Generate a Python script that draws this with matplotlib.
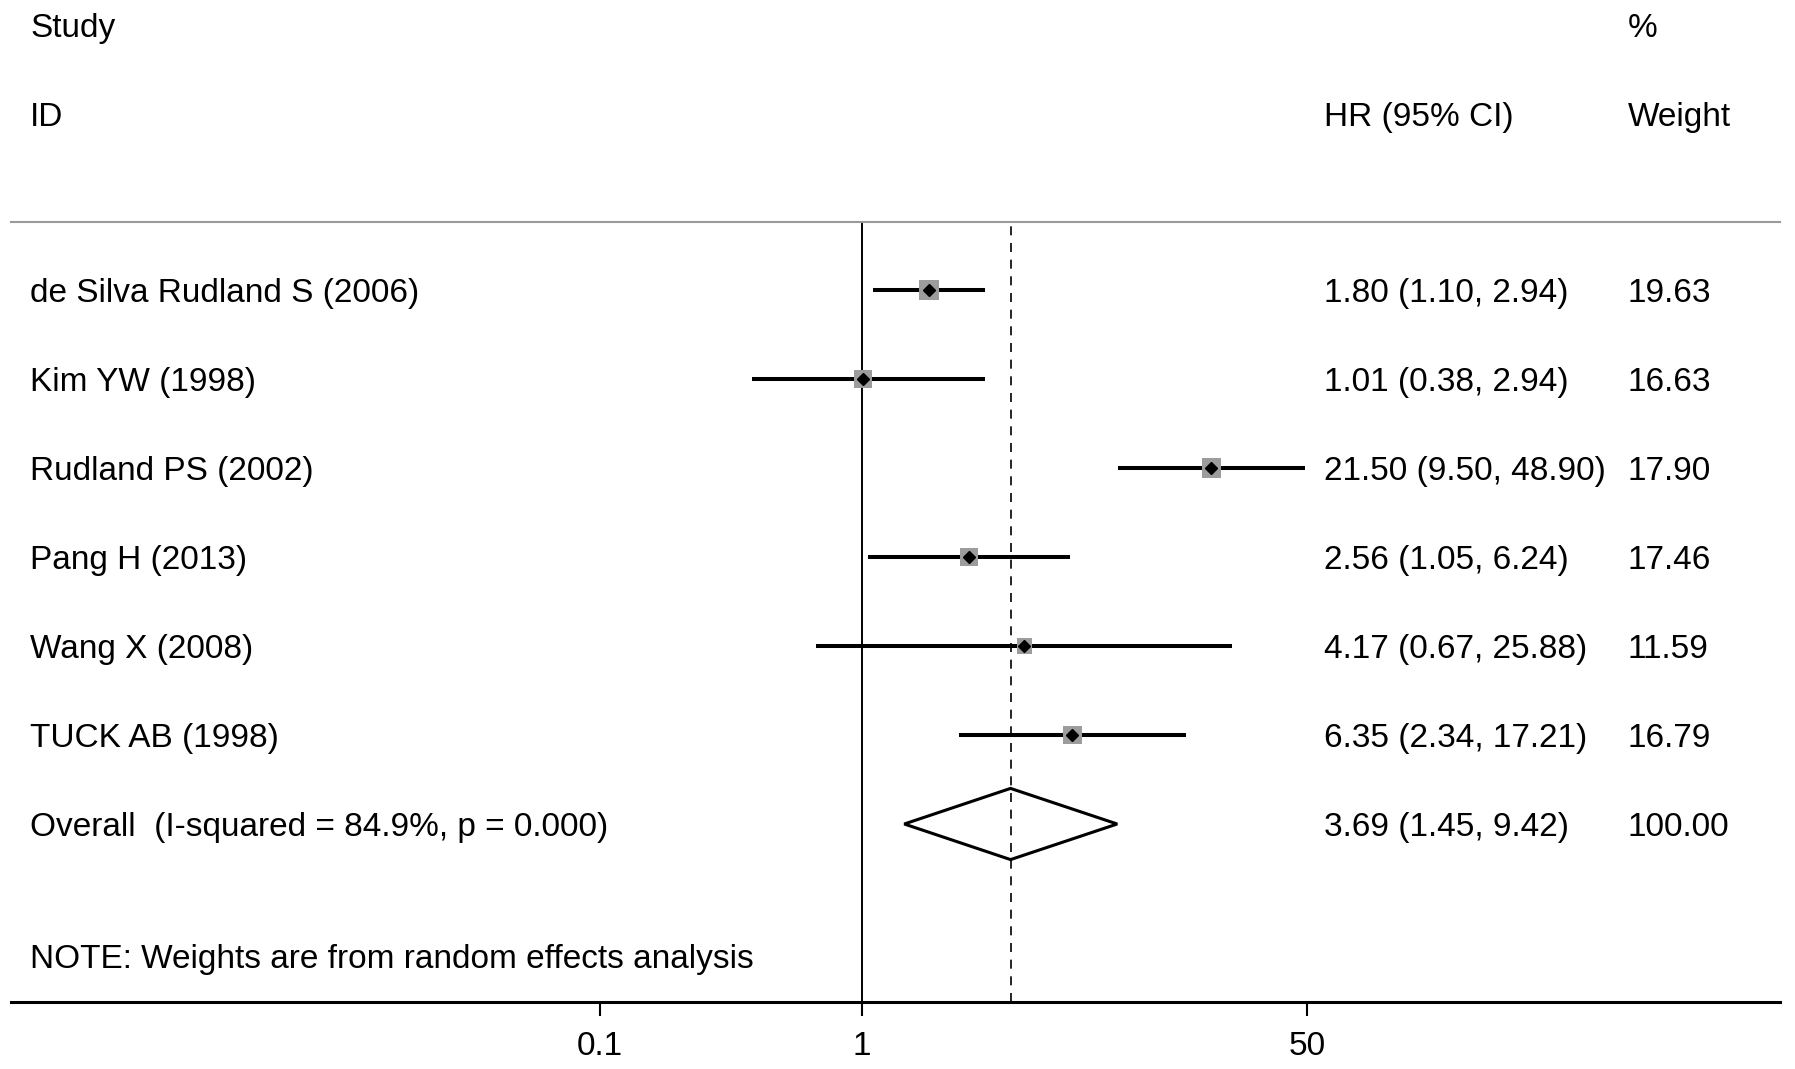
import matplotlib
matplotlib.use('Agg')
import matplotlib.pyplot as plt
from matplotlib.patches import Polygon
import numpy as np

plt.rcParams['font.family'] = ['Liberation Sans', 'DejaVu Sans']
plt.rcParams['lines.scale_dashes'] = False

# study data (HR with 95% CI, random-effects weight)
studies = ['de Silva Rudland S (2006)', 'Kim YW (1998)', 'Rudland PS (2002)',
           'Pang H (2013)', 'Wang X (2008)', 'TUCK AB (1998)']
hr = [1.80, 1.01, 21.50, 2.56, 4.17, 6.35]
lo = [1.10, 0.38, 9.50, 1.05, 0.67, 2.34]
hi = [2.94, 2.94, 48.90, 6.24, 25.88, 17.21]
weights = [19.63, 16.63, 17.90, 17.46, 11.59, 16.79]

overall_label = 'Overall  (I-squared = 84.9%, p = 0.000)'
overall_hr, overall_lo, overall_hi = 3.69, 1.45, 9.42
overall_weight = 100.00

xticks = [0.1, 1, 50]
xticklabels = ['0.1', '1', '50']

W, H = 1795, 1069
fig = plt.figure(figsize=(W / 100, H / 100), dpi=100)

# axes placed in pixels of the original picture
x0, x1 = 11, 1780
y_top, y_bot = 222, 1002
ax = fig.add_axes([x0 / W, (H - y_bot) / H, (x1 - x0) / W, (y_bot - y_top) / H])

# log scale, 1 at px 862, 262 px per decade
ax.set_xscale('log')
ax.set_xlim(10 ** ((x0 - 862) / 262.), 10 ** ((x1 - 862) / 262.))
ax.set_ylim(8.0, -0.764)

fs = 24
dy = 0.04  # small downward nudge for text
rows = np.arange(len(studies))

ax.axvline(1, color='black', lw=1.4, zorder=1)
ax.axvline(overall_hr, color='black', lw=1.2, linestyle=(0, (6.5, 5.5)), zorder=1)

ax.hlines(rows, lo, hi, color='black', lw=2.9, zorder=2)
ax.scatter(hr, rows, s=[10.6 * w for w in weights], marker='s', color='#9c9c9c',
           edgecolors='none', zorder=3)
ax.plot(hr, rows, 'D', color='black', ms=6.5, zorder=4)

# overall diamond
orow = len(studies)
dia = Polygon([(overall_lo, orow), (overall_hr, orow - 0.4),
               (overall_hi, orow), (overall_hr, orow + 0.4)],
              closed=True, fill=False, edgecolor='black', lw=2.2, zorder=3)
ax.add_patch(dia)

# text columns
tr = ax.get_yaxis_transform()
cx_lab = (30 - x0) / (x1 - x0)
cx_hr = (1324 - x0) / (x1 - x0)
cx_w = (1628 - x0) / (x1 - x0)

def put(x, y, s):
    ax.text(x, y + dy, s, transform=tr, fontsize=fs, va='center', ha='left', clip_on=False)

put(cx_lab, -2.98, 'Study')
put(cx_lab, -1.98, 'ID')
put(cx_hr, -1.98, 'HR (95% CI)')
put(cx_w, -2.98, '%')
put(cx_w, -1.98, 'Weight')

for i in rows:
    put(cx_lab, i, studies[i])
    put(cx_hr, i, '%.2f (%.2f, %.2f)' % (hr[i], lo[i], hi[i]))
    put(cx_w, i, '%.2f' % weights[i])

put(cx_lab, orow, overall_label)
put(cx_hr, orow, '%.2f (%.2f, %.2f)' % (overall_hr, overall_lo, overall_hi))
put(cx_w, orow, '%.2f' % overall_weight)
put(cx_lab, 7.48, 'NOTE: Weights are from random effects analysis')

# axis styling
for side in ['left', 'right']:
    ax.spines[side].set_visible(False)
ax.spines['top'].set_color('#9a9a9a')
ax.spines['top'].set_linewidth(1.5)
ax.spines['bottom'].set_linewidth(2.2)
ax.set_yticks([])
ax.set_xticks(xticks)
ax.set_xticklabels(xticklabels)
ax.minorticks_off()
ax.tick_params(axis='x', direction='out', length=10, width=1.5, pad=11, labelsize=fs)

fig.savefig('out.png', dpi=100)
